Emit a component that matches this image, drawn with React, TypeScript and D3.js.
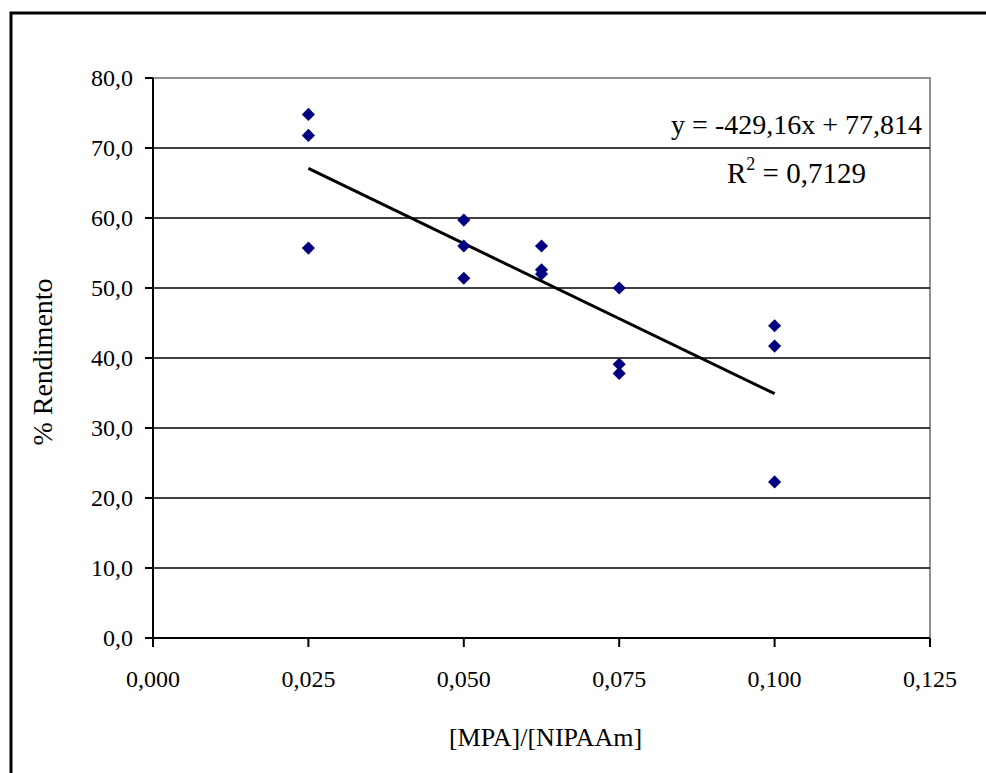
import React from "react";
import * as d3 from "d3";

// ratio [MPA]/[NIPAAm] and % yield
const ratios = [0.025, 0.025, 0.025, 0.05, 0.05, 0.05, 0.0625, 0.0625, 0.0625, 0.075, 0.075, 0.075, 0.1, 0.1, 0.1];
const yields = [74.8, 71.8, 55.7, 59.7, 56.0, 51.4, 56.0, 52.6, 52.0, 50.0, 39.1, 37.8, 44.6, 41.7, 22.3];

// linear trend line printed on the chart
const slope = -429.16;
const intercept = 77.814;
const rSquared = "0,7129";

const xTicks = [0, 0.025, 0.05, 0.075, 0.1, 0.125];
const yTicks = [0, 10, 20, 30, 40, 50, 60, 70, 80];

const fmt = (v: number, d: number) => v.toFixed(d).replace(".", ",");

const App = () => {
  const width = 986;
  const height = 773;
  const margin = { top: 78, right: 56, bottom: 135, left: 153 };
  const w = width - margin.left - margin.right;
  const h = height - margin.top - margin.bottom;

  const x = d3.scaleLinear().domain([0, 0.125]).range([0, w]);
  const y = d3.scaleLinear().domain([0, 80]).range([h, 0]);

  const xMin = d3.min(ratios) as number;
  const xMax = d3.max(ratios) as number;
  const trend = d3.line<number>()
    .x(d => x(d))
    .y(d => y(slope * d + intercept));

  const diamond = d3.symbol().type(d3.symbolDiamond2).size(110)();

  const font = "'Liberation Serif', 'Times New Roman', serif";

  return (
    <svg width={width} height={height} style={{ position: "absolute", left: 0, top: 0, background: "#fff" }}
      fontFamily={font}>
      <rect x={11} y={13} width={width} height={height} fill="none" stroke="#000" strokeWidth={3} />
      <g transform={`translate(${margin.left},${margin.top})`}>
        <rect x={0} y={0} width={w} height={h} fill="none" stroke="#909090" strokeWidth={2} />
        {yTicks.filter(t => t > 0 && t < 80).map(t => (
          <line key={"g" + t} x1={0} x2={w} y1={y(t)} y2={y(t)} stroke="#000" strokeWidth={1.6} />
        ))}
        <line x1={0} x2={0} y1={0} y2={h} stroke="#000" strokeWidth={2} />
        <line x1={0} x2={w} y1={h} y2={h} stroke="#000" strokeWidth={2} />
        {yTicks.map(t => (
          <g key={"y" + t}>
            <line x1={-8} x2={0} y1={y(t)} y2={y(t)} stroke="#000" strokeWidth={2} />
            <text x={-20} y={y(t)} dy="0.35em" textAnchor="end" fontSize={24}>{fmt(t, 1)}</text>
          </g>
        ))}
        {xTicks.map(t => (
          <g key={"x" + t}>
            <line x1={x(t)} x2={x(t)} y1={h} y2={h + 9} stroke="#000" strokeWidth={2} />
            <text x={x(t)} y={h + 49} textAnchor="middle" fontSize={24}>{fmt(t, 3)}</text>
          </g>
        ))}
        <path d={trend([xMin, xMax]) || ""} fill="none" stroke="#000" strokeWidth={3} />
        {ratios.map((r, i) => (
          <path key={"p" + i} d={diamond || ""} transform={`translate(${x(r)},${y(yields[i])})`} fill="#000080" />
        ))}
        <text x={769} y={56} textAnchor="end" fontSize={28}>y = -429,16x + 77,814</text>
        <text x={574} y={105} fontSize={29}>
          R<tspan fontSize={18} dy={-13}>2</tspan><tspan dy={13}> = {rSquared}</tspan>
        </text>
      </g>
      <text transform={`translate(52,${margin.top + h / 2 + 4})rotate(-90)`} textAnchor="middle" fontSize={28}>% Rendimento</text>
      <text x={margin.left + w / 2 + 4} y={746} textAnchor="middle" fontSize={26}>[MPA]/[NIPAAm]</text>
    </svg>
  );
};

export default App;
